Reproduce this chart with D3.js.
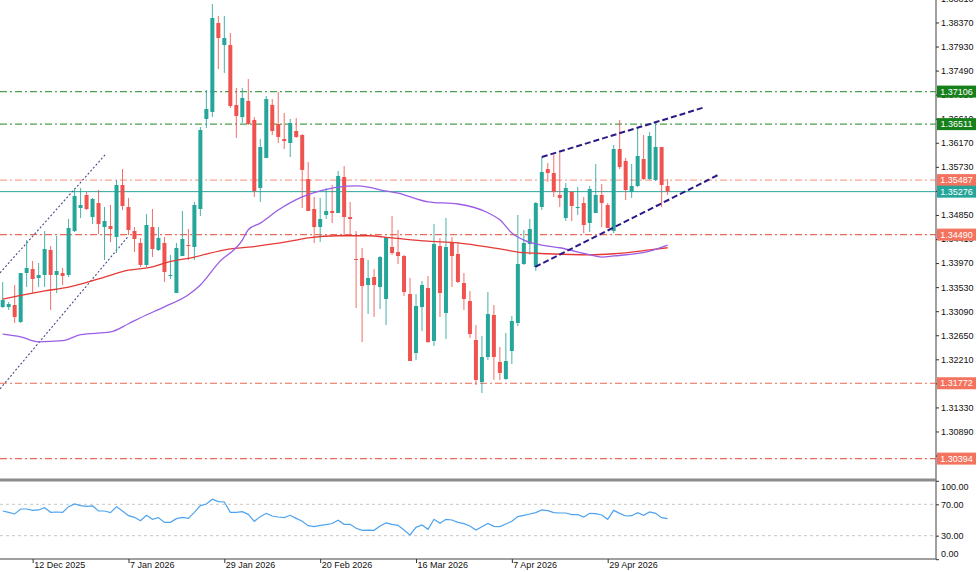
<!DOCTYPE html>
<html><head><meta charset="utf-8">
<script src="https://cdn.jsdelivr.net/npm/d3@7"></script>
<style>
body{margin:0;background:#fff;}
svg{display:block;font-family:"Liberation Sans",Arial,sans-serif;}
</style>
</head><body>
<svg id="c" width="980" height="572"></svg>
<script>
// ---------- DATA ----------
const startDate = "2025-12-05";
const holidays = ["2025-12-25","2026-01-01"];
const opens = [1.33166,1.33166,1.33203,1.32892,1.33788,1.33861,1.33697,1.33752,1.34209,1.33752,
1.33788,1.33752,1.34556,1.34977,1.35215,1.34812,1.35068,1.34629,1.34648,1.34447,
1.35398,1.34995,1.34556,1.34337,1.33935,1.34629,1.34209,1.34337,1.33743,1.33423,
1.34099,1.34300,1.34264,1.34959,1.36605,1.36733,1.38360,1.37958,1.37958,1.36861,
1.36641,1.36934,1.36586,1.35343,1.35892,1.36861,1.36513,1.36239,1.36166,1.36385,
1.36312,1.35507,1.34959,1.34629,1.34849,1.34922,1.34886,1.35544,1.34812,1.34044,
1.34063,1.33569,1.33715,1.33532,1.33313,1.34264,1.34172,1.34099,1.33404,1.32325,
1.33166,1.33514,1.32545,1.34282,1.33057,1.34337,1.34136,1.33605,1.33276,1.32563,
1.31795,1.32252,1.33020,1.32161,1.31850,1.32362,1.32874,1.33953,1.34319,1.33898,
1.34995,1.35690,1.35617,1.35215,1.34794,1.35270,1.34986,1.35068,1.34703,1.34886,
1.35215,1.35032,1.34556,1.36056,1.35837,1.35270,1.35379,1.35873,1.35507,1.35489,
1.36093,1.35379];
const highs = [1.33624,1.33258,1.33569,1.33788,1.34392,1.34008,1.33971,1.34556,1.34282,1.34465,
1.33880,1.34776,1.35343,1.35343,1.35270,1.35160,1.35306,1.34995,1.35032,1.35489,
1.35690,1.35160,1.34629,1.34428,1.34867,1.34959,1.34629,1.34447,1.34118,1.34337,
1.34922,1.34593,1.35087,1.36458,1.37135,1.38708,1.38488,1.38488,1.38177,1.37172,
1.37172,1.37336,1.36641,1.36239,1.37025,1.36970,1.37099,1.36714,1.36605,1.36623,
1.36330,1.35818,1.35178,1.35160,1.35343,1.35398,1.35654,1.35745,1.35087,1.34556,
1.34246,1.34026,1.33861,1.34099,1.34447,1.34831,1.34575,1.34118,1.33697,1.33404,
1.33642,1.33733,1.34684,1.34428,1.34794,1.34447,1.34355,1.33788,1.33459,1.32837,
1.32636,1.33441,1.33203,1.32435,1.32691,1.33002,1.34849,1.34575,1.34776,1.35087,
1.35910,1.35800,1.35965,1.35983,1.35434,1.35288,1.35361,1.35178,1.35379,1.35782,
1.35416,1.35068,1.36129,1.36586,1.35892,1.35782,1.36440,1.36312,1.36367,1.36532,
1.36093,1.35507];
const lows = [1.33148,1.33111,1.32874,1.32874,1.33532,1.33423,1.33532,1.33532,1.33111,1.33423,
1.33569,1.33715,1.34538,1.34794,1.34941,1.34684,1.34501,1.34026,1.34355,1.34154,
1.34941,1.34483,1.34172,1.33898,1.33898,1.34081,1.34191,1.33624,1.33679,1.33423,
1.34099,1.34026,1.34026,1.34831,1.36440,1.36641,1.37519,1.37446,1.36806,1.36257,
1.36532,1.36495,1.35178,1.35087,1.35892,1.36312,1.36166,1.36056,1.35910,1.36257,
1.34977,1.34922,1.34337,1.34355,1.34776,1.34703,1.34886,1.34465,1.34465,1.33148,
1.32526,1.33038,1.32984,1.33130,1.32837,1.34118,1.33953,1.33368,1.32179,1.32197,
1.32728,1.32508,1.32453,1.32984,1.32581,1.33532,1.33605,1.33111,1.32600,1.31740,
1.31594,1.32197,1.31832,1.31832,1.31832,1.32124,1.32819,1.33935,1.34118,1.33825,
1.34941,1.35453,1.35178,1.34995,1.34739,1.34739,1.34849,1.34520,1.34538,1.34886,
1.34629,1.34611,1.34520,1.35690,1.35123,1.35160,1.35361,1.35489,1.35489,1.35471,
1.34995,1.35215];
const closes = [1.33295,1.33221,1.32984,1.33788,1.33880,1.33679,1.33752,1.34227,1.33752,1.33825,
1.33733,1.34611,1.35197,1.35032,1.34959,1.35142,1.34684,1.34739,1.34593,1.35398,
1.35014,1.34575,1.34410,1.33935,1.34666,1.34227,1.34428,1.33807,1.33752,1.34246,
1.34410,1.34282,1.35032,1.36404,1.36788,1.38452,1.38086,1.38086,1.36842,1.36660,
1.36989,1.36513,1.35288,1.36093,1.36970,1.36385,1.36276,1.36202,1.36532,1.36276,
1.35672,1.34922,1.34629,1.34776,1.34922,1.34886,1.35562,1.34812,1.34776,1.34026,
1.33551,1.33697,1.33569,1.34081,1.34447,1.34154,1.34099,1.33441,1.32179,1.33185,
1.33569,1.32526,1.34319,1.33423,1.34264,1.34099,1.33624,1.33313,1.32673,1.31832,
1.32252,1.33038,1.32252,1.31960,1.32179,1.32910,1.33953,1.34337,1.34593,1.35068,
1.35636,1.35617,1.35270,1.35160,1.35343,1.35014,1.34995,1.34666,1.35324,1.35215,
1.35068,1.34611,1.36056,1.35727,1.35306,1.35379,1.35928,1.35507,1.36294,1.36093,
1.35398,1.35276];
const rsiValues = [61.5,59.8,57.7,64,64,62.3,62.8,65.7,59.8,60.2,
59.8,67,70.4,68.3,67.4,67.9,61.5,61.5,59.4,67,
61.5,55.5,53.4,49.1,56,50.9,53,47,47,51.7,
53.4,52.1,59.8,68.3,70.4,76.4,73.4,73,59.8,59.8,
60.6,57.2,48.3,54.3,58.5,55.1,53.8,53,56,52.1,
48.3,42.8,41.5,43.2,44,45.5,49.6,44.5,44.5,39.4,
36.8,37.2,36.8,42.3,46.2,44.5,43.2,37.2,30.9,40.6,
43.6,38.1,50.9,45.7,50.9,50,47,45.3,42.3,37.2,
41.5,45.7,41.9,41.5,44.9,48.3,54.3,56,57.7,59.4,
62.8,61.9,59.4,58.9,58.9,56.8,56.8,53.8,58.5,58.1,
56.4,50.9,62.3,58.5,55.1,55.5,59.4,56,60.2,58.5,
53,51.7];
// moving averages read at sample bars: [bar index, price]
const redMA = [[0,1.3331],[7,1.3346],[11,1.3353],[16,1.3368],[21,1.3384],[25,1.3390],[27,1.3397],[32,1.3408],[38,1.3423],[41,1.3426],[48,1.3437],[51,1.3443],[56,1.3447],[61,1.3447],[65,1.3443],[71,1.3437],[76,1.3434],[80,1.3428],[83,1.3423],[86,1.3417],[91,1.3414],[98,1.3412],[102,1.3414],[108,1.3421],[111,1.3425]];
const purpleMA = [[0,1.3267],[3,1.3262],[6,1.3253],[10,1.3255],[13,1.3266],[18,1.3271],[21,1.3286],[23,1.3297],[27,1.3317],[31,1.3339],[33,1.3357],[36,1.3397],[40,1.3439],[41,1.3458],[43,1.3470],[46,1.3494],[50,1.3518],[53,1.3529],[56,1.3536],[59,1.3538],[61,1.3536],[63,1.3531],[66,1.3525],[71,1.3509],[76,1.3505],[81,1.3489],[83,1.3476],[85,1.3452],[87,1.3439],[90,1.3430],[93,1.3425],[98,1.3412],[100,1.3408],[102,1.3410],[108,1.3419],[111,1.3430]];
// trend lines: [bar index, price] end points
const channelUpper = [[90,1.3591],[116.9,1.3681]];
const channelLower = [[88.9,1.3390],[119.4,1.3558]];
const dottedUpper = [[-0.45,1.3379],[17.1,1.3595]];
const dottedLower = [[-0.45,1.3167],[20.9,1.3445]];
// horizontal levels
const levelValues = [1.37106,1.36511,1.35487,1.35276,1.34490,1.31772,1.30394];
const levelKinds  = ["green","green","salmon","teal","red","red","red"];
const priceTickLabels = ["1.38810","1.38370","1.37930","1.37490","1.37050","1.36610","1.36170","1.35730","1.35290","1.34850","1.34410","1.33970","1.33530","1.33090","1.32650","1.32210","1.31770","1.31330","1.30890","1.30450"];
const dateTickLabels = ["2025-12-12","2026-01-07","2026-01-29","2026-02-20","2026-03-16","2026-04-07","2026-04-29"];
const rsiTickValues = [0,30,70,100];
const rsiLevels = [70,30];

// ---------- STYLES ----------
const styles = {
  green:{line:"#4c9f4c",bg:"#16801a",dash:"7,3,2,3",w:1.2},
  salmon:{line:"#f6a595",bg:"#f4735e",dash:"7,3,2,3",w:1.2},
  teal:{line:"#26a69a",bg:"#26a69a",dash:null,w:1},
  red:{line:"#ea6a55",bg:"#f4735e",dash:"7,3,2,3",w:1.2}
};
const bull="#26a69a", bear="#ef5350";

// ---------- BUILD ----------
const axisX=936, mainBottom=479, rsiTop=481, rsiBottom=559;
const svg=d3.select("#c");

// trading dates
const parse=d3.timeParse("%Y-%m-%d"), fmtKey=d3.timeFormat("%Y-%m-%d");
const dates=[]; let d=parse(startDate);
while(dates.length<opens.length){
  const wd=d.getDay(); const k=fmtKey(d);
  if(wd!==0&&wd!==6&&!holidays.includes(k)) dates.push(k);
  d=d3.timeDay.offset(d,1);
}
const x=d3.scaleLinear().domain([0,opens.length-1]).range([2.7,667.6]);
const y=d3.scaleLinear().domain([1.30021,1.38781]).range([mainBottom,0]);
const yr=d3.scaleLinear().domain([0,100]).range([559.2,480.8]);

const defs=svg.append("defs");
defs.append("clipPath").attr("id","cm").append("rect").attr("x",0).attr("y",0).attr("width",axisX).attr("height",mainBottom);
defs.append("clipPath").attr("id","cr").append("rect").attr("x",0).attr("y",rsiTop).attr("width",axisX).attr("height",rsiBottom-rsiTop);

const main=svg.append("g").attr("clip-path","url(#cm)");

// levels
levelValues.forEach((v,i)=>{
  const s=styles[levelKinds[i]];
  main.append("line").attr("x1",0).attr("x2",axisX).attr("y1",y(v)).attr("y2",y(v))
    .attr("stroke",s.line).attr("stroke-width",s.w).attr("stroke-dasharray",s.dash);
});

// dotted channel on left
const lineGen=d3.line().x(p=>x(p[0])).y(p=>y(p[1]));
[dottedUpper,dottedLower].forEach(l=>{
  main.append("path").attr("d",lineGen(l)).attr("fill","none").attr("stroke","#4a4a8c")
    .attr("stroke-width",1.1).attr("stroke-dasharray","2,2");
});

// candles
const bars=d3.range(opens.length).map(i=>({i,o:opens[i],h:highs[i],l:lows[i],c:closes[i]}));
const cg=main.append("g");
cg.selectAll("line.w").data(bars).join("line").attr("class","w")
  .attr("x1",b=>x(b.i)).attr("x2",b=>x(b.i)).attr("y1",b=>y(b.h)).attr("y2",b=>y(b.l))
  .attr("stroke",b=>b.c>=b.o?bull:bear).attr("stroke-width",1).attr("stroke-opacity",0.85);
cg.selectAll("rect.b").data(bars).join("rect").attr("class","b")
  .attr("x",b=>x(b.i)-2).attr("width",4)
  .attr("y",b=>y(Math.max(b.o,b.c)))
  .attr("height",b=>Math.max(1,Math.abs(y(b.o)-y(b.c))))
  .attr("fill",b=>b.c>=b.o?bull:bear);

// moving averages
const maGen=d3.line().x(p=>x(p[0])).y(p=>y(p[1])).curve(d3.curveMonotoneX);
main.append("path").attr("d",maGen(redMA)).attr("fill","none").attr("stroke","#e53935").attr("stroke-width",1.3);
main.append("path").attr("d",maGen(purpleMA)).attr("fill","none").attr("stroke","#9b5de5").attr("stroke-width",1.3);

// rising channel
[channelUpper,channelLower].forEach(l=>{
  main.append("path").attr("d",lineGen(l)).attr("fill","none").attr("stroke","#2e1a87")
    .attr("stroke-width",2).attr("stroke-dasharray","6,3");
});

// RSI panel
const rg=svg.append("g").attr("clip-path","url(#cr)");
rsiLevels.forEach(v=>{
  rg.append("line").attr("x1",0).attr("x2",axisX).attr("y1",yr(v)).attr("y2",yr(v))
    .attr("stroke","#c8c8c8").attr("stroke-width",1).attr("stroke-dasharray","3,3");
});
rg.append("path").datum(rsiValues)
  .attr("d",d3.line().x((v,i)=>x(i)).y(v=>yr(v)))
  .attr("fill","none").attr("stroke","#4da3ef").attr("stroke-width",1.2);

// frame
svg.append("rect").attr("x",0).attr("y",mainBottom-0.5).attr("width",axisX).attr("height",3).attr("fill","#8c8c8c");
svg.append("line").attr("x1",0).attr("x2",axisX).attr("y1",rsiBottom).attr("y2",rsiBottom).attr("stroke","#808080").attr("stroke-width",1.5);
svg.append("line").attr("x1",axisX).attr("x2",axisX).attr("y1",0).attr("y2",rsiBottom+0.75).attr("stroke","#808080").attr("stroke-width",1.5);

// price axis
const yAxis=d3.axisRight(y).tickValues(priceTickLabels.map(Number))
  .tickFormat(v=>priceTickLabels[priceTickLabels.map(Number).indexOf(v)])
  .tickSize(3).tickSizeOuter(0).tickPadding(2);
const ya=svg.append("g").attr("transform",`translate(${axisX},0)`).call(yAxis);
ya.select(".domain").remove();
ya.selectAll("text").attr("font-size",9).attr("fill","#111").attr("font-family","Liberation Sans, Arial, sans-serif");
ya.selectAll("line").attr("stroke","#333");

// level labels
levelValues.forEach((v,i)=>{
  const s=styles[levelKinds[i]];
  const g=svg.append("g").attr("transform",`translate(937,${y(v)})`);
  g.append("rect").attr("x",0).attr("y",-6).attr("width",39).attr("height",12).attr("fill",s.bg);
  g.append("text").attr("x",19.5).attr("y",0).attr("dy","0.35em").attr("text-anchor","middle")
    .attr("font-size",9).attr("fill","#fff").text(v.toFixed(5));
});

// RSI axis
const ra=svg.append("g").attr("transform",`translate(${axisX},0)`)
  .call(d3.axisRight(yr).tickValues(rsiTickValues).tickFormat(d3.format(".2f")).tickSize(3).tickSizeOuter(0).tickPadding(2));
ra.select(".domain").remove();
ra.selectAll("text").attr("font-size",9).attr("fill","#111").attr("font-family","Liberation Sans, Arial, sans-serif")
  .attr("dy",v=>v===100?"0.95em":(v===0?"-0.25em":"0.35em"));
ra.selectAll("line").attr("stroke","#333");

// time axis
const tickIdx=dateTickLabels.map(k=>dates.indexOf(k));
const fmtDate=d3.timeFormat("%-d %b %Y");
const xa=svg.append("g").attr("transform",`translate(0,${rsiBottom})`)
  .call(d3.axisBottom(x).tickValues(tickIdx).tickFormat(i=>fmtDate(parse(dates[i]))).tickSize(4).tickSizeOuter(0));
xa.select(".domain").remove();
xa.selectAll("line").attr("stroke","#333");
xa.selectAll("text").attr("font-size",9).attr("fill","#111").attr("text-anchor","start")
  .attr("x",1).attr("y",3).attr("dy","0.71em").attr("font-family","Liberation Sans, Arial, sans-serif");
</script>
</body></html>
